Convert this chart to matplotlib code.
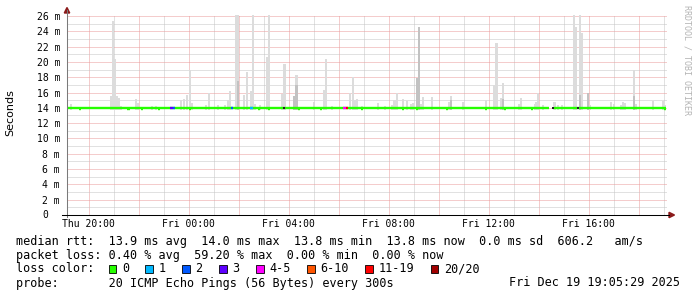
import matplotlib
matplotlib.use("Agg")
import matplotlib.pyplot as plt
import matplotlib.patches as patches
from matplotlib.lines import Line2D

W, H = 697, 297

# time axis in hours counted from Thu 00:00
t_start, t_end = 19.14, 43.14
y_max = 26.13
step_h = 5 / 60.0

tick_hours = [20, 24, 28, 32, 36, 40]
tick_labels = ['Thu 20:00', 'Fri 00:00', 'Fri 04:00', 'Fri 08:00', 'Fri 12:00', 'Fri 16:00']
ytick_vals = [2, 4, 6, 8, 10, 12, 14, 16, 18, 20, 22, 24, 26]

# smoke (max ping of each 5 min round), ms
smoke_hours = [19.29, 20.91, 20.99, 21.07, 21.15, 21.23, 21.31, 21.90, 21.98, 22.55,
               22.71, 23.71, 23.83, 23.93, 24.05, 24.13, 24.71, 24.83, 25.17, 25.47,
               25.57, 25.66, 25.90, 25.98, 26.22, 26.33, 26.50, 26.58, 26.67, 26.85,
               27.14, 27.22, 27.76, 27.84, 28.23, 28.32, 29.01, 29.42, 29.50, 29.75,
               30.45, 30.57, 30.67, 30.75, 30.93, 31.59, 31.87, 32.13, 32.24, 32.33,
               32.59, 32.75, 32.91, 32.99, 33.14, 33.22, 33.31, 33.39, 33.73, 34.41,
               34.50, 34.99, 35.89, 36.23, 36.32, 36.51, 36.59, 37.23, 37.31, 37.85,
               37.91, 37.99, 38.19, 38.64, 38.79, 38.95, 39.42, 39.50, 39.67, 39.74,
               39.98, 40.07, 40.91, 41.03, 41.31, 41.39, 41.47, 41.82, 41.91, 42.59,
               42.99, 43.07]
smoke_top = [14.5, 15.55, 25.35, 20.4, 15.55, 15.3, 14.2, 15.1, 14.6, 14.3,
             14.3, 15.0, 15.2, 15.7, 19.0, 14.6, 14.4, 16.0, 14.4, 14.4,
             15.0, 16.2, 26.2, 26.2, 15.7, 18.7, 16.2, 26.2, 14.5, 14.4,
             20.6, 26.2, 15.8, 19.7, 15.55, 18.3, 14.8, 16.3, 20.4, 14.3,
             15.9, 18.0, 15.0, 15.1, 14.3, 14.6, 14.3, 14.4, 15.0, 16.0,
             15.1, 14.9, 14.5, 14.6, 17.9, 24.5, 14.5, 15.4, 15.4, 14.7,
             15.55, 14.8, 15.0, 17.0, 22.5, 15.3, 17.3, 14.5, 15.3, 14.5,
             14.8, 16.0, 14.4, 14.8, 14.4, 14.4, 26.2, 24.6, 26.2, 23.8,
             15.9, 14.4, 14.8, 14.5, 14.4, 14.8, 14.6, 19.0, 14.5, 14.9,
             14.9, 14.4]
smoke_bottom = 13.75

# denser part of the smoke
dark_hours = [25.98, 28.23, 28.32, 33.14, 33.22, 34.50, 36.59, 39.67, 39.98, 41.82]
dark_top = [17.5, 15.5, 17.0, 17.9, 24.5, 15.0, 15.2, 15.7, 15.9, 15.5]

# median rtt
median_rtt = 14.0
line_start, line_end = 19.14, 43.10
gap_start, gap_end = 38.43, 38.63
dip_hours = [19.65, 21.60, 22.13, 22.81, 24.07, 26.81, 27.21, 28.43, 29.30, 30.93,
             32.57, 33.15, 34.33, 35.89, 36.65, 37.75, 43.07]
dip_rtt = 13.8
dark_mark_hours = [27.80, 38.59, 39.59]

# loss coloured pieces of the median line
loss_start = [23.27, 23.38, 25.70, 26.47, 30.18, 30.28]
loss_end = [23.38, 23.47, 25.79, 26.59, 30.28, 30.39]
loss_seg_color = ['#5e00ff', '#0059ff', '#0059ff', '#00b8ff', '#ff00ff', '#ff0000']

loss_labels = ['0', '1', '2', '3', '4-5', '6-10', '11-19', '20/20']
loss_colors = ['#26ff00', '#00b8ff', '#0059ff', '#5e00ff', '#ff00ff', '#ff5500', '#ff0000', '#a10000']

rtt_line = 'median rtt:  13.9 ms avg  14.0 ms max  13.8 ms min  13.8 ms now  0.0 ms sd  606.2   am/s'
loss_line = 'packet loss: 0.40 % avg  59.20 % max  0.00 % min  0.00 % now'
probe_line = 'probe:       20 ICMP Echo Pings (56 Bytes) every 300s'
date_text = 'Fri Dec 19 19:05:29 2025'

MONO = 'DejaVu Sans Mono'


def fx(x):
    return x / W


def fy(y):
    return 1 - y / H


fig = plt.figure(figsize=(W / 100, H / 100), dpi=100)
fig.patch.set_facecolor('white')
ax = fig.add_axes([fx(67), fy(215), 600 / W, 200 / H])
ax.set_xlim(t_start, t_end)
ax.set_ylim(0, y_max)
for s in ax.spines.values():
    s.set_visible(False)

# grid, dotted
dash = (0, (1, 1))
for h in range(19, 44):
    col = '#eb9a9a' if h % 2 == 0 else '#c4c4c4'
    ax.axvline(h, color=col, lw=0.72, ls=dash, zorder=0)
for v in range(1, 27):
    col = '#eb9a9a' if v % 2 == 0 else '#c4c4c4'
    ax.axhline(v, color=col, lw=0.72, ls=dash, zorder=0)

# smoke
ax.bar(smoke_hours, [t - smoke_bottom for t in smoke_top], bottom=smoke_bottom,
       width=step_h, color='#dcdcdc', linewidth=0, zorder=1)
ax.bar(dark_hours, [t - smoke_bottom for t in dark_top], bottom=smoke_bottom,
       width=step_h, color='#c2c2c2', linewidth=0, zorder=1)

# median line
lw = 1.7
ax.hlines(median_rtt, line_start, gap_start, color=loss_colors[0], lw=lw, zorder=3)
ax.hlines(median_rtt, gap_end, line_end, color=loss_colors[0], lw=lw, zorder=3)
for h in dip_hours:
    ax.hlines(dip_rtt, h - step_h / 2, h + step_h / 2, color=loss_colors[0], lw=lw, zorder=3)
for a, b, c in zip(loss_start, loss_end, loss_seg_color):
    ax.hlines(median_rtt, a, b, color=c, lw=lw, zorder=4)
ax.plot(dark_mark_hours, [median_rtt] * len(dark_mark_hours), 's', color='#202020',
        ms=1.6, mew=0, zorder=5)

# ticks
ax.set_xticks(tick_hours)
ax.set_xticklabels(tick_labels, family=MONO, fontsize=7)
ax.set_yticks(ytick_vals)
ax.set_yticklabels(['%d m' % v for v in ytick_vals], family=MONO, fontsize=7)
ax.tick_params(axis='both', length=0)
ax.tick_params(axis='y', pad=5.0)
ax.tick_params(axis='x', pad=3.2)
fig.text(fx(48), fy(215), '0', family=MONO, fontsize=7, ha='right', va='center')

# axes with arrows
fig.add_artist(Line2D([fx(67), fx(67)], [fy(217), fy(10)], color='#7a7a7a', lw=0.75))
fig.add_artist(Line2D([fx(62), fx(669)], [fy(215), fy(215)], color='black', lw=0.75))
fig.add_artist(patches.Polygon([(fx(64.3), fy(13)), (fx(69.7), fy(13)), (fx(67), fy(7.5))],
                               closed=True, color='#8b1a1a', transform=fig.transFigure))
fig.add_artist(patches.Polygon([(fx(669), fy(212.3)), (fx(669), fy(217.7)), (fx(674.5), fy(215))],
                               closed=True, color='#8b1a1a', transform=fig.transFigure))

fig.text(fx(10), fy(113), 'Seconds', rotation=90, ha='center', va='center',
         fontsize=8, family='DejaVu Sans')
fig.text(fx(687), fy(60), 'RRDTOOL / TOBI OETIKER', rotation=270, ha='center', va='center',
         fontsize=6, family=MONO, color='#b4b4b4')

# legend block
fs = 8.5
cw = 0.602 * fs * 100 / 72
fig.text(fx(16), fy(241), rtt_line, family=MONO, fontsize=fs, va='center')
fig.text(fx(16), fy(255), loss_line, family=MONO, fontsize=fs, va='center')
fig.text(fx(16), fy(269), 'loss color:', family=MONO, fontsize=fs, va='center')
bx = 108.5
for lab, col in zip(loss_labels, loss_colors):
    fig.add_artist(patches.Rectangle((fx(bx), fy(272.5)), 7.5 / W, 7.5 / H,
                                     facecolor=col, edgecolor='black', lw=0.6,
                                     transform=fig.transFigure))
    lx = bx + 13.3
    fig.text(fx(lx), fy(269), lab, family=MONO, fontsize=fs, va='center')
    bx = lx + len(lab) * cw + 16.5
fig.text(fx(16), fy(283), probe_line, family=MONO, fontsize=fs, va='center')
fig.text(fx(680), fy(283), date_text, family=MONO, fontsize=fs, va='center', ha='right')

fig.savefig('out.png', dpi=100)
